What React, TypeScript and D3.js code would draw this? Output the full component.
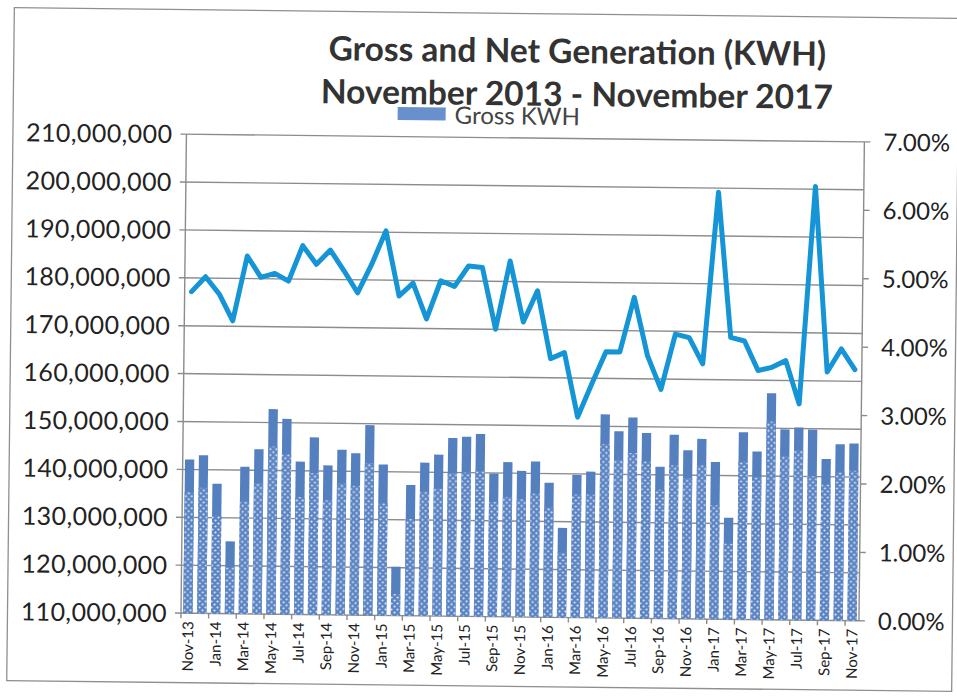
import React, { useRef, useEffect } from 'react'
import * as d3 from 'd3'

// monthly categories, Nov 2013 - Nov 2017
const months = [
  'Nov-13', 'Dec-13', 'Jan-14', 'Feb-14', 'Mar-14', 'Apr-14', 'May-14', 'Jun-14', 'Jul-14', 'Aug-14',
  'Sep-14', 'Oct-14', 'Nov-14', 'Dec-14', 'Jan-15', 'Feb-15', 'Mar-15', 'Apr-15', 'May-15', 'Jun-15',
  'Jul-15', 'Aug-15', 'Sep-15', 'Oct-15', 'Nov-15', 'Dec-15', 'Jan-16', 'Feb-16', 'Mar-16', 'Apr-16',
  'May-16', 'Jun-16', 'Jul-16', 'Aug-16', 'Sep-16', 'Oct-16', 'Nov-16', 'Dec-16', 'Jan-17', 'Feb-17',
  'Mar-17', 'Apr-17', 'May-17', 'Jun-17', 'Jul-17', 'Aug-17', 'Sep-17', 'Oct-17', 'Nov-17',
]

// gross generation, millions of KWH
const grossM = [
  142.1, 143.0, 137.1, 125.1, 140.7, 144.4, 152.8, 150.8, 141.9, 147.0,
  141.2, 144.5, 143.8, 149.7, 141.5, 120.2, 137.3, 142.0, 143.7, 147.2,
  147.5, 148.1, 139.9, 142.3, 140.5, 142.5, 138.1, 128.7, 139.8, 140.5,
  152.5, 149.0, 151.9, 148.7, 141.7, 148.4, 145.2, 147.6, 142.8, 131.2,
  149.1, 145.1, 157.3, 149.8, 150.2, 149.8, 143.7, 146.8, 147.0,
]

// net generation, millions of KWH
const netM = [
  135.3, 136.2, 130.4, 119.7, 133.5, 137.3, 145.0, 143.4, 134.5, 139.5,
  133.9, 137.4, 137.0, 141.8, 133.5, 114.5, 130.2, 135.9, 136.6, 139.9,
  140.0, 140.4, 134.0, 135.0, 134.6, 135.8, 132.9, 123.5, 135.7, 135.7,
  146.3, 143.0, 144.5, 142.8, 136.9, 142.0, 139.3, 142.1, 133.8, 125.8,
  143.0, 139.8, 151.4, 144.2, 145.4, 140.1, 138.4, 141.0, 141.3,
]

// station use / loss, percent of gross (right axis)
const lossPct = [
  4.70, 4.92, 4.67, 4.28, 5.23, 4.92, 4.98, 4.87, 5.39, 5.12,
  5.33, 5.03, 4.71, 5.13, 5.62, 4.67, 4.86, 4.34, 4.90, 4.82,
  5.12, 5.10, 4.20, 5.20, 4.31, 4.77, 3.78, 3.87, 2.93, 3.42,
  3.89, 3.89, 4.69, 3.84, 3.35, 4.16, 4.11, 3.73, 6.24, 4.12,
  4.07, 3.64, 3.69, 3.79, 3.16, 6.34, 3.63, 3.97, 3.67,
]

const leftTicks = [110, 120, 130, 140, 150, 160, 170, 180, 190, 200, 210]
const rightTicks = [0, 1, 2, 3, 4, 5, 6, 7]
const titleLines = ['Gross and Net Generation (KWH)', 'November 2013 - November 2017']
const legendLabel = 'Gross KWH'

const W = 957
const H = 696
const FONT = 'Lato, "Open Sans", sans-serif'

const App: React.FC = () => {
  const svgRef = useRef<SVGSVGElement | null>(null)

  useEffect(() => {
    if (!svgRef.current) return
    const svg = d3.select(svgRef.current)
    svg.selectAll('*').remove()

    // plot edges (before the slight scan tilt)
    const left = 184
    const right = 862
    const top = 137.5
    const bottom = 616.5

    const x = d3.scaleBand<string>()
      .domain(months)
      .range([left, right])
      .paddingInner(0.33)
      .paddingOuter(0.165)

    const yL = d3.scaleLinear().domain([110, 210]).range([bottom, top])
    const yR = d3.scaleLinear().domain([0, 7]).range([bottom, top])

    const barFill = '#5580c0'

    // dotted fill for the net bars
    const defs = svg.append('defs')
    const pat = defs.append('pattern')
      .attr('id', 'dots')
      .attr('patternUnits', 'userSpaceOnUse')
      .attr('width', 6)
      .attr('height', 6)
    pat.append('rect').attr('width', 6).attr('height', 6).attr('fill', '#5a83c3')
    pat.append('circle').attr('cx', 1.5).attr('cy', 1.5).attr('r', 1.1).attr('fill', '#e2eaf7')
    pat.append('circle').attr('cx', 4.5).attr('cy', 4.5).attr('r', 1.1).attr('fill', '#e2eaf7')

    svg.append('rect').attr('width', W).attr('height', H).attr('fill', '#fff')

    // whole page is scanned slightly clockwise
    const root = svg.append('g').attr('transform', 'rotate(0.65, 480, 350)')

    // page border
    root.append('rect')
      .attr('x', 10.5)
      .attr('y', 13)
      .attr('width', 945)
      .attr('height', 673)
      .attr('fill', 'none')
      .attr('stroke', '#8f8f8f')
      .attr('stroke-width', 1.3)

    // title
    titleLines.forEach((t, i) => {
      root.append('text')
        .attr('x', 574)
        .attr('y', 62 + i * 43)
        .attr('text-anchor', 'middle')
        .style('font-family', FONT)
        .style('font-weight', 'bold')
        .style('font-size', '33.5px')
        .attr('fill', '#333')
        .text(t)
    })

    // gridlines
    root.append('g')
      .selectAll('line')
      .data(leftTicks)
      .join('line')
      .attr('x1', left - 6)
      .attr('x2', right)
      .attr('y1', d => yL(d))
      .attr('y2', d => yL(d))
      .attr('stroke', '#8c8c8c')
      .attr('stroke-width', 1.4)

    // axis lines
    root.append('line')
      .attr('x1', left).attr('x2', left)
      .attr('y1', top).attr('y2', bottom)
      .attr('stroke', '#8c8c8c').attr('stroke-width', 1.4)
    root.append('line')
      .attr('x1', right).attr('x2', right)
      .attr('y1', top).attr('y2', bottom)
      .attr('stroke', '#8c8c8c').attr('stroke-width', 1.4)

    // right axis ticks
    root.append('g')
      .selectAll('line')
      .data(rightTicks)
      .join('line')
      .attr('x1', right)
      .attr('x2', right + 6)
      .attr('y1', d => yR(d))
      .attr('y2', d => yR(d))
      .attr('stroke', '#8c8c8c')
      .attr('stroke-width', 1.4)

    // bottom ticks, every second month
    const step = x.step()
    const tickIdx = d3.range(0, months.length + 1, 2)
    root.append('g')
      .selectAll('line')
      .data(tickIdx)
      .join('line')
      .attr('x1', d => left + d * step)
      .attr('x2', d => left + d * step)
      .attr('y1', bottom)
      .attr('y2', bottom + 5)
      .attr('stroke', '#8c8c8c')
      .attr('stroke-width', 1.4)

    // gross bars (solid)
    root.append('g')
      .selectAll('rect')
      .data(grossM)
      .join('rect')
      .attr('x', (_, i) => x(months[i])!)
      .attr('width', x.bandwidth())
      .attr('y', d => yL(d))
      .attr('height', d => bottom - yL(d))
      .attr('fill', barFill)

    // net bars (dotted)
    root.append('g')
      .selectAll('rect')
      .data(netM)
      .join('rect')
      .attr('x', (_, i) => x(months[i])!)
      .attr('width', x.bandwidth())
      .attr('y', d => yL(d))
      .attr('height', d => bottom - yL(d))
      .attr('fill', 'url(#dots)')

    // loss line
    const line = d3.line<number>()
      .x((_, i) => x(months[i])! + x.bandwidth() / 2)
      .y(d => yR(d))

    root.append('path')
      .datum(lossPct)
      .attr('d', line)
      .attr('fill', 'none')
      .attr('stroke', '#1594d6')
      .attr('stroke-width', 5)
      .attr('stroke-linejoin', 'round')
      .attr('stroke-linecap', 'round')

    // left axis labels
    const fmt = d3.format(',')
    root.append('g')
      .selectAll('text')
      .data(leftTicks)
      .join('text')
      .attr('x', left - 14)
      .attr('y', d => yL(d))
      .attr('dy', '0.36em')
      .attr('text-anchor', 'end')
      .style('font-family', FONT)
      .style('font-size', '25px')
      .style('letter-spacing', '0.4px')
      .attr('fill', '#222')
      .text(d => fmt(d * 1e6))

    // right axis labels
    root.append('g')
      .selectAll('text')
      .data(rightTicks)
      .join('text')
      .attr('x', right + 19)
      .attr('y', d => yR(d))
      .attr('dy', '0.36em')
      .attr('text-anchor', 'start')
      .style('font-family', FONT)
      .style('font-size', '24px')
      .attr('fill', '#222')
      .text(d => d.toFixed(2) + '%')

    // month labels, every second month, rotated
    root.append('g')
      .selectAll('text')
      .data(months.filter((_, i) => i % 2 === 0))
      .join('text')
      .attr('transform', d => `translate(${x(d)! + x.bandwidth() / 2},${bottom + 8}) rotate(-90)`)
      .attr('dy', '0.36em')
      .attr('text-anchor', 'end')
      .style('font-family', FONT)
      .style('font-size', '15px')
      .attr('fill', '#222')
      .text(d => d)

    // legend (only the gross entry is visible)
    root.append('rect')
      .attr('x', 395)
      .attr('y', 108)
      .attr('width', 48)
      .attr('height', 13)
      .attr('fill', '#6890cc')
    root.append('text')
      .attr('x', 452)
      .attr('y', 124)
      .style('font-family', FONT)
      .style('font-size', '24px')
      .attr('fill', '#444')
      .text(legendLabel)
  }, [])

  return (
    <svg
      ref={svgRef}
      width={W}
      height={H}
      style={{ position: 'absolute', left: 0, top: 0 }}
    />
  )
}

export default App
